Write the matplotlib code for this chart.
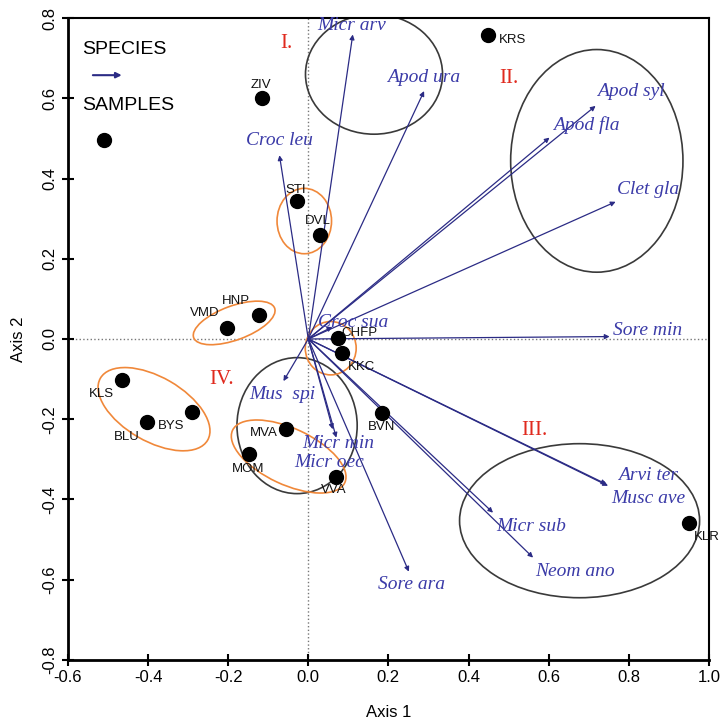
import matplotlib
matplotlib.use("Agg")
import matplotlib.pyplot as plt
from matplotlib.patches import Ellipse

# Samples (black dots)
samples = ["KRS", "ZIV", "STI", "DVL", "HNP", "VMD", "CHFP", "KKC",
           "KLS", "BYS", "BLU", "BVN", "MVA", "MOM", "VVA", "KLR"]
sample_x = [0.448, -0.115, -0.028, 0.028, -0.124, -0.203, 0.074, 0.085,
            -0.465, -0.289, -0.403, 0.185, -0.055, -0.148, 0.068, 0.949]
sample_y = [0.758, 0.600, 0.343, 0.258, 0.060, 0.028, 0.002, -0.036,
            -0.103, -0.181, -0.208, -0.185, -0.224, -0.287, -0.345, -0.459]

# Species (arrows from origin)
species = ["Micr arv", "Apod ura", "Apod syl", "Apod fla", "Clet gla", "Sore min",
           "Croc leu", "Croc sua", "Mus  spi", "Micr min", "Micr oec", "Sore ara",
           "Arvi ter", "Musc ave", "Micr sub", "Neom ano"]
species_x = [0.111, 0.289, 0.717, 0.602, 0.767, 0.752,
             -0.072, 0.060, -0.062, 0.070, 0.061, 0.251,
             0.748, 0.744, 0.461, 0.561]
species_y = [0.759, 0.618, 0.581, 0.502, 0.342, 0.006,
             0.458, 0.030, -0.105, -0.246, -0.225, -0.580,
             -0.366, -0.362, -0.433, -0.545]

# label offsets (points)
sample_off = [(17.8, -3.8), (-0.7, 9.6), (-1, 8.4), (-1.2, 10.3), (-16, 10), (-16, 10.4),
              (15.6, 3.6), (13.7, -10), (-14.8, -10), (-15.3, -10.6), (-14.8, -10.5),
              (-0.7, -10), (-16.3, -2.7), (-0.7, -10.6), (-1.2, -8.9), (13, -9.8)]
species_off = [(-1, 6.7), (-0.7, 10), (25.7, 10.3), (26.4, 9.1), (23.3, 8.9), (27.6, 4.6),
               (0, 10.8), (14.8, 3.1), (-0.5, -10), (1.2, -4.3), (-2.4, -24), (1.7, -9.6),
               (28.8, 7.7), (30, -10), (27.6, -9.6), (30, -10.3)]

# groups: (cx, cy, width, height, angle, colour)
groups = [
    (0.164, 0.660, 0.342, 0.299, 0, "#3a3a3a"),
    (0.720, 0.444, 0.430, 0.555, 0, "#3a3a3a"),
    (0.677, -0.453, 0.599, 0.384, 0, "#3a3a3a"),
    (-0.028, -0.216, 0.300, 0.339, 0, "#3a3a3a"),
    (-0.010, 0.294, 0.136, 0.163, 0, "#f0883a"),
    (-0.185, 0.040, 0.215, 0.085, 20, "#f0883a"),
    (0.056, -0.023, 0.127, 0.133, 0, "#f0883a"),
    (-0.385, -0.175, 0.309, 0.160, -30, "#f0883a"),
    (-0.049, -0.293, 0.309, 0.140, -25, "#f0883a"),
]
numerals = ["I.", "II.", "III.", "IV."]
numeral_x = [-0.055, 0.501, 0.565, -0.216]
numeral_y = [0.736, 0.650, -0.228, -0.102]

arrow_col = "#2b2b85"
text_col = "#3b3ba8"

fig = plt.figure(figsize=(7.22, 7.22), dpi=100)
ax = fig.add_axes([0.094, 0.086, 0.888, 0.889])
ax.set_xlim(-0.6, 1.0)
ax.set_ylim(-0.8, 0.8)

ax.axhline(0, color="#777777", ls=":", lw=1.0, zorder=1)
ax.axvline(0, color="#777777", ls=":", lw=1.0, zorder=1)

for cx, cy, w, h, ang, col in groups:
    ax.add_patch(Ellipse((cx, cy), w, h, angle=ang, fill=False, ec=col, lw=1.2, zorder=2))

for name, x, y, off in zip(species, species_x, species_y, species_off):
    ax.annotate("", xy=(x, y), xytext=(0, 0),
                arrowprops=dict(arrowstyle="-|>", color=arrow_col, lw=0.9,
                                mutation_scale=7, shrinkA=0, shrinkB=0), zorder=3)
    ax.annotate(name, xy=(x, y), xytext=off, textcoords="offset points",
                ha="center", va="center", fontsize=14, style="italic",
                family="Liberation Serif", color=text_col, zorder=4)

ax.scatter(sample_x, sample_y, s=100, color="black", zorder=5)
for name, x, y, off in zip(samples, sample_x, sample_y, sample_off):
    ax.annotate(name, xy=(x, y), xytext=off, textcoords="offset points",
                ha="center", va="center", fontsize=9.5, family="Liberation Sans",
                color="#111111", zorder=6)

for t, x, y in zip(numerals, numeral_x, numeral_y):
    ax.text(x, y, t, ha="center", va="center", fontsize=15, family="Liberation Serif",
            color="#e02a1e", zorder=6)

# legend
ax.text(0.022, 0.951, "SPECIES", transform=ax.transAxes, ha="left", va="center",
        fontsize=14, family="Liberation Sans")
ax.annotate("", xy=(0.084, 0.911), xytext=(0.039, 0.911), xycoords="axes fraction",
            textcoords="axes fraction",
            arrowprops=dict(arrowstyle="-|>", color=arrow_col, lw=1.5,
                            mutation_scale=8, shrinkA=0, shrinkB=0))
ax.text(0.022, 0.864, "SAMPLES", transform=ax.transAxes, ha="left", va="center",
        fontsize=14, family="Liberation Sans")
ax.scatter([0.057], [0.810], s=100, color="black", transform=ax.transAxes, zorder=5)

ax.set_xticks([-0.6, -0.4, -0.2, 0.0, 0.2, 0.4, 0.6, 0.8, 1.0])
ax.set_yticks([-0.8, -0.6, -0.4, -0.2, 0.0, 0.2, 0.4, 0.6, 0.8])
ax.xaxis.set_major_formatter(plt.FormatStrFormatter("%.1f"))
ax.yaxis.set_major_formatter(plt.FormatStrFormatter("%.1f"))
ax.tick_params(direction="inout", length=8, width=1.5, labelsize=12)
for lab in ax.get_xticklabels() + ax.get_yticklabels():
    lab.set_family("Liberation Sans")
for lab in ax.get_yticklabels():
    lab.set_rotation(90)
    lab.set_va("center")

for side in ["left", "bottom"]:
    ax.spines[side].set_linewidth(2)
for side in ["top", "right"]:
    ax.spines[side].set_linewidth(1.5)

ax.set_xlabel("Axis 1", fontsize=12, family="Liberation Sans", labelpad=14)
ax.set_ylabel("Axis 2", fontsize=12, family="Liberation Sans", labelpad=12)

fig.savefig("out.png", dpi=100)
